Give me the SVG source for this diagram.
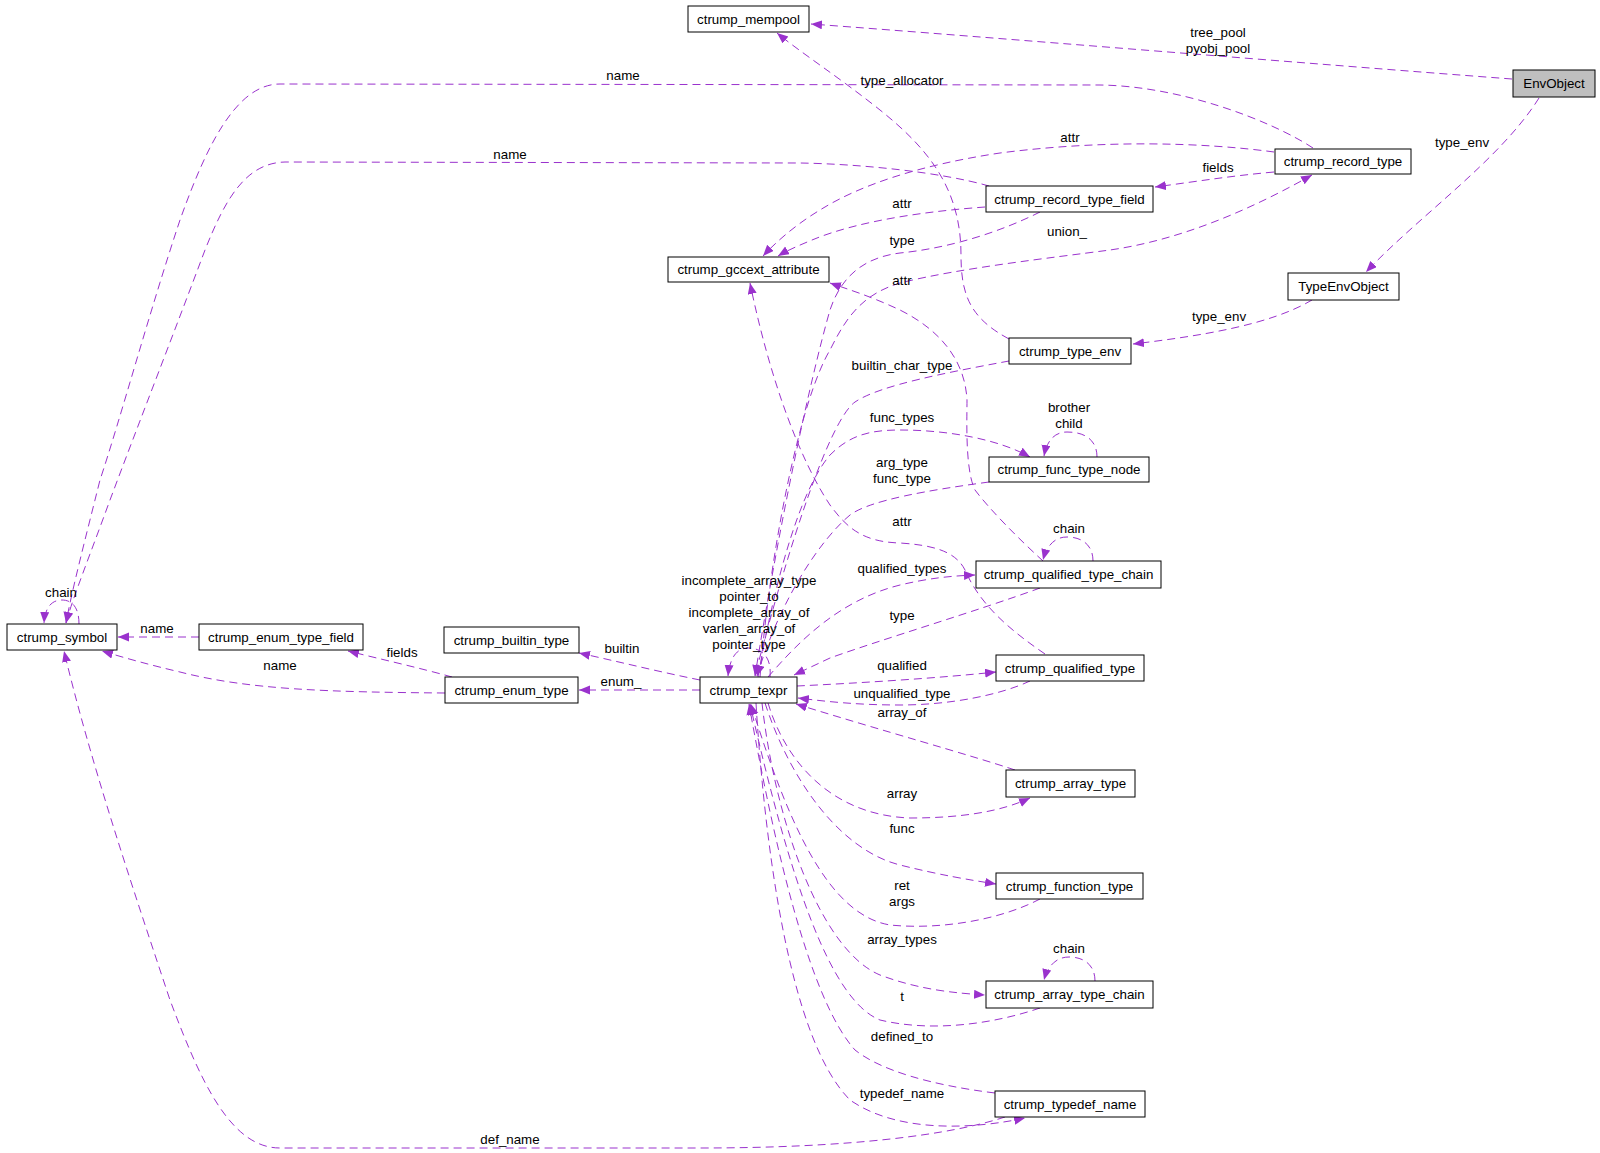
<svg xmlns="http://www.w3.org/2000/svg" width="1600" height="1153" viewBox="0 0 1600 1153">
<style>
.n rect{fill:#fff;stroke:#000;stroke-width:1}
.n text,.l text{font-family:"Liberation Sans",Helvetica,Arial,sans-serif;font-size:13.33px;fill:#000;text-anchor:middle}
.e path{fill:none;stroke:#9a32cd;stroke-width:1;stroke-dasharray:8,5;marker-end:url(#a)}
.e path.t{marker-end:none}
</style>
<defs>
<marker id="a" markerWidth="12" markerHeight="10" refX="11" refY="4.5" orient="auto" markerUnits="userSpaceOnUse"><path d="M0,0 L11,4.5 L0,9 Z" fill="#9a32cd" stroke="none"/></marker>
</defs>
<rect width="1600" height="1153" fill="#fff"/>
<g id="connectors" class="e">
<path d="M1512,79 C1300,63 1000,38 811,24"/>
<path d="M1539,98 C1500,160 1420,215 1366,272"/>
<path d="M1312,300 C1270,325 1200,336 1133,344"/>
<path d="M1009,339 C970,318 961,295 961,255 C961,190 930,150 880,110 C840,78 800,52 777,33"/>
<path d="M1313,148 C1270,120 1180,86 1100,85 L280,84 C235,84 205,150 180,220 C150,310 120,420 100,480 C85,540 72,590 66,623"/>
<path d="M989,186 C940,172 860,164 800,163 L285,162 C245,163 225,200 205,250 C175,330 140,420 110,500 C90,555 72,600 66,623"/>
<path d="M1274,172 C1230,176 1200,181 1155,187"/>
<path d="M1274,152 C1200,142 1100,140 1000,153 C920,165 860,185 820,210 C795,225 775,243 763,256"/>
<path d="M985,207 C930,211 860,220 812,240 C800,245 788,250 778,256"/>
<path d="M1040,212 C1000,232 950,248 900,253 C860,258 840,280 830,310 C810,380 780,520 755,676"/>
<path d="M760,677 C770,550 800,400 830,350 C845,320 860,295 900,283 C960,268 1050,258 1110,250 C1180,240 1250,210 1312,175"/>
<path d="M1009,361 C950,372 880,385 855,402 C830,420 790,540 755,676"/>
<path d="M758,677 C775,580 800,490 830,455 C850,435 870,430 900,430 C950,430 1000,440 1030,457"/>
<path d="M989,482 C930,490 870,500 850,515 C820,540 780,600 757,676"/>
<path d="M768,677 C800,640 840,600 900,585 C930,578 950,576 975,575"/>
<path d="M1040,588 C980,610 880,640 830,658 L794,675"/>
<path d="M1045,654 C1010,630 980,605 965,570 C955,550 930,545 900,543 C860,542 845,525 830,505 C800,460 770,380 750,283"/>
<path d="M1043,561 C1020,540 990,510 975,490 C965,470 967,420 967,400 C965,360 940,330 900,310 C870,296 850,290 830,283"/>
<path d="M770,677 C772,655 760,648 748,648 C738,648 730,656 728,676"/>
<path d="M797,686 C860,683 940,678 996,672"/>
<path d="M1030,681 C1000,695 950,705 900,705 C860,705 830,702 798,698"/>
<path d="M1015,770 C970,755 880,730 796,704"/>
<path d="M768,703 C785,760 830,815 910,818 C960,818 1000,812 1030,798"/>
<path d="M765,703 C790,780 840,850 900,865 C940,875 970,880 996,884"/>
<path d="M1040,899 C1000,920 940,930 890,925 C830,915 790,830 751,704"/>
<path d="M762,703 C775,820 820,950 880,975 C920,990 955,993 985,995"/>
<path d="M1040,1008 C990,1025 930,1032 880,1020 C830,1000 790,880 750,704"/>
<path d="M995,1093 C930,1085 880,1070 855,1050 C810,1000 775,850 749,704"/>
<path d="M756,703 C765,850 790,1040 850,1100 C900,1135 980,1128 1025,1118"/>
<path d="M1005,1117 C950,1135 850,1148 700,1148 L280,1148 C230,1148 200,1080 170,1000 C130,880 90,760 64,651"/>
<path d="M700,690 L579,690"/>
<path d="M700,680 C660,672 620,662 579,653"/>
<path d="M452,677 C420,668 380,659 348,651"/>
<path d="M445,693 C330,692 250,690 180,672 C150,665 125,658 102,651"/>
<path d="M199,637 L118,637"/>
<path d="M79,624 C79,605 70,600 62,600 C52,600 45,607 44,623"/>
<path d="M1097,457 C1097,440 1085,432 1067,432 C1055,432 1047,440 1044,456"/>
<path d="M1093,561 C1093,545 1082,537 1067,537 C1055,537 1047,545 1043,560"/>
<path d="M1095,981 C1095,965 1084,957 1069,957 C1057,957 1048,965 1044,980"/>
<g class="l">
<text x="1218" y="37">tree_pool</text>
<text x="1218" y="53">pyobj_pool</text>
<text x="1462" y="147">type_env</text>
<text x="1219" y="321">type_env</text>
<text x="902" y="85">type_allocator</text>
<text x="623" y="80">name</text>
<text x="510" y="159">name</text>
<text x="1218" y="172">fields</text>
<text x="1070" y="142">attr</text>
<text x="902" y="208">attr</text>
<text x="902" y="245">type</text>
<text x="1067" y="236">union_</text>
<text x="902" y="285">attr</text>
<text x="902" y="370">builtin_char_type</text>
<text x="1069" y="412">brother</text>
<text x="1069" y="428">child</text>
<text x="902" y="422">func_types</text>
<text x="902" y="467">arg_type</text>
<text x="902" y="483">func_type</text>
<text x="902" y="526">attr</text>
<text x="1069" y="533">chain</text>
<text x="902" y="573">qualified_types</text>
<text x="749" y="585">incomplete_array_type</text>
<text x="749" y="601">pointer_to</text>
<text x="749" y="617">incomplete_array_of</text>
<text x="749" y="633">varlen_array_of</text>
<text x="749" y="649">pointer_type</text>
<text x="902" y="620">type</text>
<text x="61" y="597">chain</text>
<text x="157" y="633">name</text>
<text x="402" y="657">fields</text>
<text x="622" y="653">builtin</text>
<text x="280" y="670">name</text>
<text x="621" y="686">enum_</text>
<text x="902" y="670">qualified</text>
<text x="902" y="698">unqualified_type</text>
<text x="902" y="717">array_of</text>
<text x="902" y="798">array</text>
<text x="902" y="833">func</text>
<text x="902" y="890">ret</text>
<text x="902" y="906">args</text>
<text x="902" y="944">array_types</text>
<text x="1069" y="953">chain</text>
<text x="902" y="1001">t</text>
<text x="902" y="1041">defined_to</text>
<text x="902" y="1098">typedef_name</text>
<text x="510" y="1144">def_name</text>
</g>
</g>
<g id="EnvObject" class="n"><rect x="1513" y="70" width="82" height="27" style="fill:#bfbfbf"/><text x="1554" y="88">EnvObject</text></g>
<g id="ctrump_mempool" class="n"><rect x="688" y="6" width="121" height="26"/><text x="748.5" y="24">ctrump_mempool</text></g>
<g id="ctrump_record_type" class="n"><rect x="1275" y="149" width="136" height="25"/><text x="1343" y="166">ctrump_record_type</text></g>
<g id="ctrump_record_type_field" class="n"><rect x="986" y="186" width="167" height="26"/><text x="1069.5" y="204">ctrump_record_type_field</text></g>
<g id="ctrump_gccext_attribute" class="n"><rect x="668" y="257" width="161" height="25"/><text x="748.5" y="274">ctrump_gccext_attribute</text></g>
<g id="TypeEnvObject" class="n"><rect x="1288" y="273" width="111" height="27"/><text x="1343.5" y="291">TypeEnvObject</text></g>
<g id="ctrump_type_env" class="n"><rect x="1009" y="338" width="122" height="26"/><text x="1070" y="356">ctrump_type_env</text></g>
<g id="ctrump_func_type_node" class="n"><rect x="989" y="457" width="160" height="25"/><text x="1069" y="474">ctrump_func_type_node</text></g>
<g id="ctrump_qualified_type_chain" class="n"><rect x="976" y="561" width="185" height="27"/><text x="1068.5" y="579">ctrump_qualified_type_chain</text></g>
<g id="ctrump_qualified_type" class="n"><rect x="996" y="655" width="148" height="26"/><text x="1070" y="673">ctrump_qualified_type</text></g>
<g id="ctrump_symbol" class="n"><rect x="7" y="624" width="110" height="26"/><text x="62" y="642">ctrump_symbol</text></g>
<g id="ctrump_enum_type_field" class="n"><rect x="199" y="624" width="164" height="26"/><text x="281" y="642">ctrump_enum_type_field</text></g>
<g id="ctrump_builtin_type" class="n"><rect x="444" y="627" width="135" height="26"/><text x="511.5" y="645">ctrump_builtin_type</text></g>
<g id="ctrump_enum_type" class="n"><rect x="445" y="677" width="133" height="26"/><text x="511.5" y="695">ctrump_enum_type</text></g>
<g id="ctrump_texpr" class="n"><rect x="700" y="677" width="97" height="26"/><text x="748.5" y="695">ctrump_texpr</text></g>
<g id="ctrump_array_type" class="n"><rect x="1006" y="770" width="129" height="27"/><text x="1070.5" y="788">ctrump_array_type</text></g>
<g id="ctrump_function_type" class="n"><rect x="996" y="873" width="147" height="26"/><text x="1069.5" y="891">ctrump_function_type</text></g>
<g id="ctrump_array_type_chain" class="n"><rect x="986" y="981" width="167" height="27"/><text x="1069.5" y="999">ctrump_array_type_chain</text></g>
<g id="ctrump_typedef_name" class="n"><rect x="995" y="1091" width="150" height="26"/><text x="1070" y="1109">ctrump_typedef_name</text></g>
</svg>
